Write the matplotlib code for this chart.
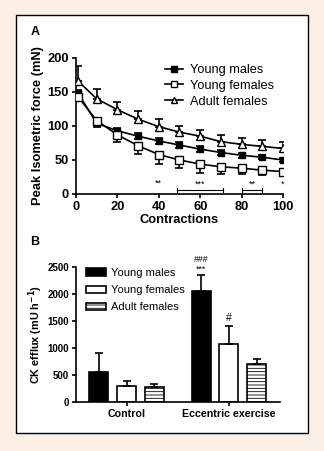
import numpy as np
import matplotlib
matplotlib.use("Agg")
import matplotlib.pyplot as plt
from matplotlib.patches import Rectangle
from matplotlib.lines import Line2D

plt.rcParams['font.family'] = ['Liberation Sans', 'DejaVu Sans']
plt.rcParams['hatch.linewidth'] = 0.6

# Panel A data
contractions = [1, 10, 20, 30, 40, 50, 60, 70, 80, 90, 100]
young_males = [148, 104, 93, 85, 78, 72, 66, 61, 57, 54, 50]
young_males_err = [5, 5, 4, 4, 4, 4, 4, 3, 4, 3, 3]
young_females = [143, 108, 87, 71, 58, 50, 44, 40, 38, 35, 33]
young_females_err = [6, 6, 11, 12, 14, 12, 13, 11, 8, 7, 7]
adult_females = [166, 140, 124, 110, 99, 91, 85, 77, 73, 70, 67]
adult_females_err = [22, 15, 11, 12, 11, 9, 9, 10, 10, 10, 9]

# Panel B data
groups = ['Control', 'Eccentric exercise']
ck_young_males = [560, 2050]
ck_young_males_err = [350, 310]
ck_young_females = [290, 1075]
ck_young_females_err = [100, 335]
ck_adult_females = [270, 700]
ck_adult_females_err = [55, 100]

W, H = 324, 451
fig = plt.figure(figsize=(W / 100, H / 100), dpi=100)
fig.patch.set_facecolor('#fcefe6')

def fx(px):
    return px / W

def fy(py):
    return 1 - py / H

# white framed box
fig.patches.append(Rectangle((fx(16), fy(433)), fx(308) - fx(16), fy(15) - fy(433),
                             transform=fig.transFigure, facecolor='white',
                             edgecolor='black', linewidth=1.0, zorder=-5))

# ---- Panel A ----
axA = fig.add_axes([fx(76), fy(194), fx(283) - fx(76), fy(58) - fy(194)])
axA.set_facecolor('none')
lw = 1.2
axA.errorbar(contractions, adult_females, yerr=[np.zeros(11), adult_females_err],
             color='black', marker='^', mfc='white', ms=6, lw=lw, capsize=3,
             elinewidth=lw, capthick=lw, zorder=3)
axA.errorbar(contractions, young_males, yerr=young_males_err,
             color='black', marker='s', mfc='black', ms=5, lw=lw, capsize=3,
             elinewidth=lw, capthick=lw, zorder=4)
axA.errorbar(contractions, young_females, yerr=[young_females_err, np.zeros(11)],
             color='black', marker='s', mfc='white', ms=6, lw=lw, capsize=3,
             elinewidth=lw, capthick=lw, zorder=5)
axA.set_xlim(0, 100)
axA.set_ylim(0, 200)
axA.set_xticks([0, 20, 40, 60, 80, 100])
axA.set_yticks([0, 50, 100, 150, 200])
for s in ['top', 'right']:
    axA.spines[s].set_visible(False)
for s in ['left', 'bottom']:
    axA.spines[s].set_linewidth(1.2)
axA.tick_params(width=1.2, length=3, labelsize=9.3, pad=2)
for lbl in axA.get_xticklabels() + axA.get_yticklabels():
    lbl.set_fontweight('bold')
axA.set_xlabel('Contractions', fontsize=9.3, fontweight='bold', labelpad=1)
axA.set_ylabel('Peak Isometric force (mN)', fontsize=9.3, fontweight='bold')
axA.yaxis.set_label_coords(-0.155, 0.5)
handles = [
    Line2D([], [], color='black', marker='s', mfc='black', ms=4, lw=lw),
    Line2D([], [], color='black', marker='s', mfc='white', ms=5, lw=lw),
    Line2D([], [], color='black', marker='^', mfc='white', ms=5, lw=lw),
]
labels = ['Young males', 'Young females', 'Adult females']
axA.legend(handles, labels, loc='upper left',
           bbox_to_anchor=(fx(165), fy(64)), bbox_transform=fig.transFigure,
           borderaxespad=0, borderpad=0, frameon=False, fontsize=9.2,
           handlelength=1.4, handletextpad=0.55, labelspacing=0.3)

# significance marks
axA.text(40, 9, '**', ha='center', va='bottom', fontsize=6.5)
axA.plot([49, 71], [6, 6], color='black', lw=0.8)
axA.plot([49, 49], [3, 9], color='black', lw=0.8)
axA.plot([71, 71], [3, 9], color='black', lw=0.8)
axA.text(60, 8, '***', ha='center', va='bottom', fontsize=6.5)
axA.plot([80, 90], [6, 6], color='black', lw=0.8)
axA.plot([80, 80], [3, 9], color='black', lw=0.8)
axA.plot([90, 90], [3, 9], color='black', lw=0.8)
axA.text(85, 8, '**', ha='center', va='bottom', fontsize=6.5)
axA.text(100, 8, '*', ha='center', va='bottom', fontsize=6.5)

fig.text(fx(35), fy(32), 'A', fontsize=9, fontweight='bold', ha='center', va='center')

# ---- Panel B ----
axB = fig.add_axes([fx(76), fy(402), fx(280) - fx(76), fy(267) - fy(402)])
axB.set_facecolor('none')
x = np.arange(len(groups))
off = 0.27
bw = 0.185
ekw = dict(ecolor='black', elinewidth=1.2, capsize=3, capthick=1.2)
axB.bar(x - off, ck_young_males, bw, color='black', edgecolor='black', lw=1.2,
        yerr=[np.zeros(2), ck_young_males_err], error_kw=ekw, label='Young males')
axB.bar(x, ck_young_females, bw, color='white', edgecolor='black', lw=1.2,
        yerr=[np.zeros(2), ck_young_females_err], error_kw=ekw, label='Young females')
axB.bar(x + off, ck_adult_females, bw, color='white', edgecolor='black', lw=1.2,
        hatch='-----', yerr=[np.zeros(2), ck_adult_females_err], error_kw=ekw,
        label='Adult females')
axB.set_xlim(-0.493, 1.498)
axB.set_ylim(0, 2500)
axB.set_xticks(x)
axB.set_xticklabels(groups)
axB.set_yticks([0, 500, 1000, 1500, 2000, 2500])
for s in ['top', 'right']:
    axB.spines[s].set_visible(False)
for s in ['left', 'bottom']:
    axB.spines[s].set_linewidth(1.2)
axB.tick_params(width=1.2, length=3, labelsize=7, pad=2)
axB.tick_params(axis='x', labelsize=7.7, pad=2)
for lbl in axB.get_xticklabels() + axB.get_yticklabels():
    lbl.set_fontweight('bold')
axB.set_ylabel('CK efflux (mU h$^{\\mathbf{-1}}$)', fontsize=7.8, fontweight='bold')
axB.yaxis.set_label_coords(-0.15, 0.5)
axB.legend(loc='upper left', bbox_to_anchor=(fx(86), fy(268)), bbox_transform=fig.transFigure,
           borderaxespad=0, borderpad=0, frameon=False, fontsize=8,
           handlelength=1.8, handleheight=0.65, handletextpad=0.45, labelspacing=0.65)

ecc_top = ck_young_males[1] + ck_young_males_err[1]
axB.text(1 - off, ecc_top + 10, '***', ha='center', va='bottom', fontsize=6.3)
axB.text(1 - off, ecc_top + 190, '###', ha='center', va='bottom', fontsize=6.3)
axB.text(1, ck_young_females[1] + ck_young_females_err[1] + 50, '#',
         ha='center', va='bottom', fontsize=7.5)

fig.text(fx(35), fy(242), 'B', fontsize=9, fontweight='bold', ha='center', va='center')

fig.savefig('out.png', dpi=100, facecolor=fig.get_facecolor())
